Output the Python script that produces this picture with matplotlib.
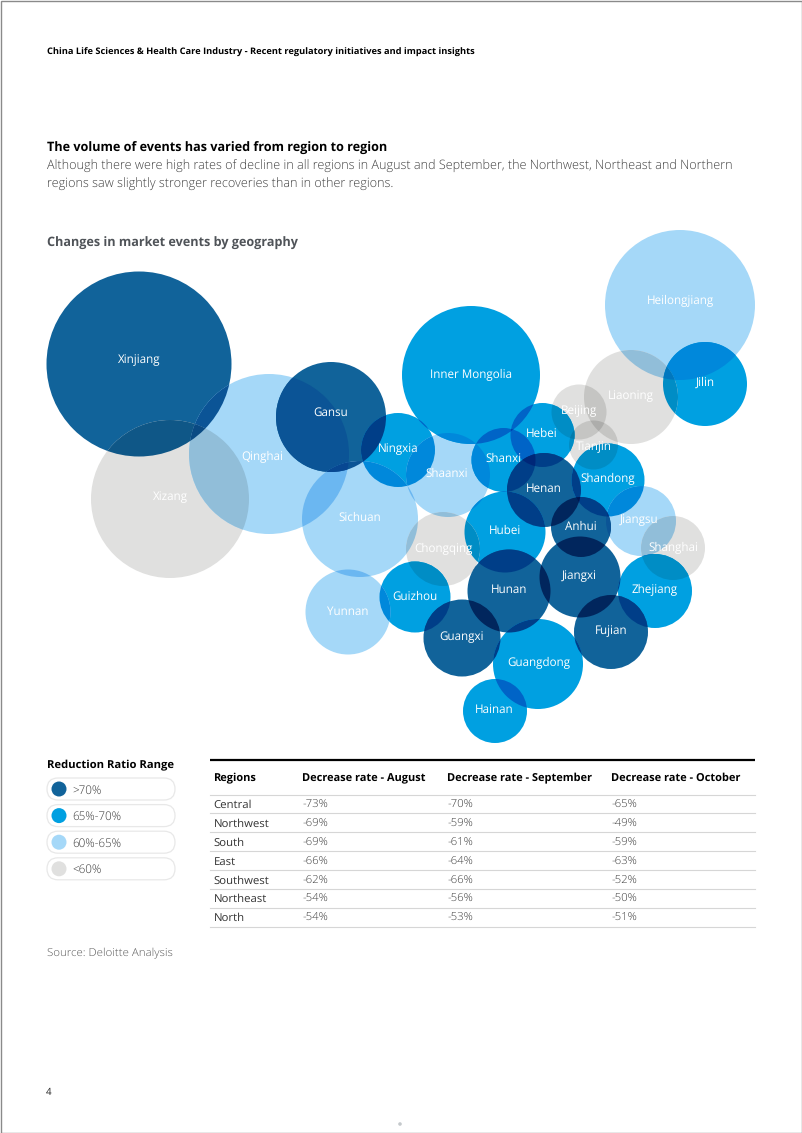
import numpy as np
import matplotlib
matplotlib.use('Agg')
import matplotlib.pyplot as plt
from matplotlib.patches import Circle, FancyBboxPatch, PathPatch
from matplotlib.path import Path

plt.rcParams['font.family'] = ['Open Sans', 'DejaVu Sans']
plt.rcParams['text.hinting'] = 'none'

# bubble map data, on the page's pixel grid
regions = ['Xinjiang', 'Xizang', 'Qinghai', 'Gansu', 'Ningxia', 'Sichuan', 'Shaanxi', 'Inner Mongolia',
           'Heilongjiang', 'Jilin', 'Liaoning', 'Beijing', 'Tianjin', 'Hebei', 'Shanxi', 'Henan',
           'Shandong', 'Jiangsu', 'Shanghai', 'Anhui', 'Hubei', 'Chongqing', 'Jiangxi', 'Hunan',
           'Zhejiang', 'Guizhou', 'Yunnan', 'Guangxi', 'Fujian', 'Guangdong', 'Hainan']
region_x = [139, 170, 269, 331, 398, 360, 448, 471, 680, 705, 631, 579, 593.5, 542.5, 503.5, 544,
            608, 641, 673, 581, 505, 443, 580, 509, 655, 415, 348, 462, 611, 538, 495]
region_y = [364, 499, 454, 417, 450, 519, 475, 375, 305, 384, 397, 412, 445, 435, 460, 490,
            480, 521, 548, 527, 532, 549, 577, 591, 591, 597, 612, 638, 632, 664, 711]
region_r = [92.5, 79, 80, 55, 37, 58, 42, 69, 75, 42, 47, 27.5, 24.5, 32, 32, 37,
            36.5, 35, 32, 30, 40.5, 37, 40.5, 41.5, 37, 35.5, 42.5, 38.5, 37, 45, 32]
region_band = [0, 3, 2, 0, 1, 2, 2, 1, 2, 1, 3, 3, 3, 1, 1, 0,
               1, 2, 3, 0, 1, 3, 0, 0, 1, 1, 2, 0, 0, 1, 1]
label_x = [139, 170, 262, 331, 398, 360, 447, 471, 680, 705, 631, 579, 594, 542, 503, 544,
           608, 639, 673, 581, 505, 443, 579, 509, 655, 415, 348, 462, 611, 539, 494]
label_y = [363, 500, 460, 416, 452, 521, 477, 378, 304, 386, 399, 414, 450, 437, 462, 492,
           482, 523, 551, 530, 534, 552, 579, 593, 593, 600, 615, 640, 634, 666, 713]

band_labels = ['>70%', '65%-70%', '60%-65%', '<60%']
band_colors = ['#11639a', '#00a0e1', '#a5d8f8', '#e0e0df']

table_header = ['Regions', 'Decrease rate - August', 'Decrease rate - September', 'Decrease rate - October']
table_regions = ['Central', 'Northwest', 'South', 'East', 'Southwest', 'Northeast', 'North']
rate_august = ['-73%', '-69%', '-69%', '-66%', '-62%', '-54%', '-54%']
rate_september = ['-70%', '-59%', '-61%', '-64%', '-66%', '-56%', '-53%']
rate_october = ['-65%', '-49%', '-59%', '-63%', '-52%', '-50%', '-51%']

GREY_TEXT = '#404040'


def rgb(band):
    return np.array(matplotlib.colors.to_rgb(band_colors[band]))


def overlaps(a, b):
    return np.hypot(region_x[a] - region_x[b], region_y[a] - region_y[b]) < region_r[a] + region_r[b]


def circle_patch(i, color):
    return Circle((region_x[i], region_y[i]), region_r[i], facecolor=color, edgecolor='none')


def lens_path(a, b):
    # outline of the area shared by two circles, as a polygon
    pts = []
    for p, q in [(a, b), (b, a)]:
        t = np.linspace(0, 2 * np.pi, 720, endpoint=False)
        x = region_x[p] + region_r[p] * np.cos(t)
        y = region_y[p] + region_r[p] * np.sin(t)
        inside = np.hypot(x - region_x[q], y - region_y[q]) <= region_r[q]
        pts.append(np.column_stack([x[inside], y[inside]]))
    pts = np.vstack(pts)
    centre = pts.mean(axis=0)
    order = np.argsort(np.arctan2(pts[:, 1] - centre[1], pts[:, 0] - centre[0]))
    pts = pts[order]
    return Path(np.vstack([pts, pts[:1]]), closed=True)


fig = plt.figure(figsize=(8.02, 11.33), dpi=100)
ax = fig.add_axes([0, 0, 1, 1])
ax.set_xlim(0, 802)
ax.set_ylim(1133, 0)
ax.axis('off')

# page frame
ax.add_patch(plt.Rectangle((0.5, 0.5), 801, 1132, facecolor='none', edgecolor='#8a8a8a', lw=1))

# heading block
ax.text(47, 54.5, 'China Life Sciences & Health Care Industry - Recent regulatory initiatives and impact insights',
        fontsize=6.65, fontweight='bold', color='black', va='baseline')
ax.text(47, 151.5, 'The volume of events has varied from region to region',
        fontsize=9.1, fontweight='bold', color='black', va='baseline')
ax.text(47, 169.5, 'Although there were high rates of decline in all regions in August and September, the Northwest, Northeast and Northern',
        fontsize=9.1, fontweight='light', color=GREY_TEXT, va='baseline')
ax.text(47, 187.5, 'regions saw slightly stronger recoveries than in other regions.',
        fontsize=9.1, fontweight='light', color=GREY_TEXT, va='baseline')
ax.text(47, 246.5, 'Changes in market events by geography',
        fontsize=9.1, fontweight='bold', color='#4f5358', va='baseline')

# bubbles: the reference multiplies overlapping colours, so shared areas are painted on top
n = len(regions)
for i in range(n):
    ax.add_patch(circle_patch(i, rgb(region_band[i])))
for i in range(n):
    for j in range(i + 1, n):
        if overlaps(i, j):
            patch = circle_patch(j, rgb(region_band[i]) * rgb(region_band[j]))
            ax.add_patch(patch)
            patch.set_clip_path(Circle((region_x[i], region_y[i]), region_r[i], transform=ax.transData))
for i in range(n):
    for j in range(i + 1, n):
        for k in range(j + 1, n):
            if overlaps(i, j) and overlaps(i, k) and overlaps(j, k):
                color = rgb(region_band[i]) * rgb(region_band[j]) * rgb(region_band[k])
                patch = PathPatch(lens_path(j, k), facecolor=color, edgecolor='none')
                ax.add_patch(patch)
                patch.set_clip_path(Circle((region_x[i], region_y[i]), region_r[i], transform=ax.transData))

for name, x, y in zip(regions, label_x, label_y):
    ax.text(x, y, name, fontsize=8.4, fontweight='medium', color='white', ha='center', va='baseline')

# legend
ax.text(47, 768, 'Reduction Ratio Range', fontsize=8.1, fontweight='bold', color='black', va='baseline')
for i, (label, color) in enumerate(zip(band_labels, band_colors)):
    y = 789 + i * 26.6
    ax.add_patch(FancyBboxPatch((47, y - 11), 128, 22, boxstyle='round,pad=0,rounding_size=11',
                                facecolor='white', edgecolor='#e8e8e8', lw=0.9))
    ax.add_patch(Circle((59, y), 7.5, facecolor=color, edgecolor='none'))
    ax.text(72, y + 4.5, label, fontsize=8.4, fontweight='light', color=GREY_TEXT, va='baseline')

# table
col_x = [213.5, 302, 447, 611]
ax.plot([210, 755], [760, 760], color='black', lw=1.6, solid_capstyle='butt')
for x, head in zip(col_x, table_header):
    ax.text(x, 781, head, fontsize=7.9, fontweight='bold', color='black', va='baseline')
ax.plot([210, 755], [794.5, 794.5], color='#d6d6d6', lw=0.8)
for i, row in enumerate(zip(table_regions, rate_august, rate_september, rate_october)):
    y = 804 + i * 18.85
    for x, cell, color in zip(col_x, row, ['#333333', GREY_TEXT, GREY_TEXT, GREY_TEXT]):
        ax.text(x, y + 4, cell, fontsize=8.2, fontweight='light' if x > 214 else 'normal', color=color, va='baseline')
    ax.plot([210, 755], [y + 9.4, y + 9.4], color='#d6d6d6', lw=0.8)

ax.text(47, 956, 'Source: Deloitte Analysis', fontsize=8.28, fontweight='light', color='#5a5a5a', va='baseline')
ax.text(46, 1095, '4', fontsize=7, color='#222222', va='baseline')
ax.add_patch(Circle((400, 1124), 1.8, facecolor='#c4c9cc', edgecolor='none'))

fig.savefig('out.png', dpi=100)
